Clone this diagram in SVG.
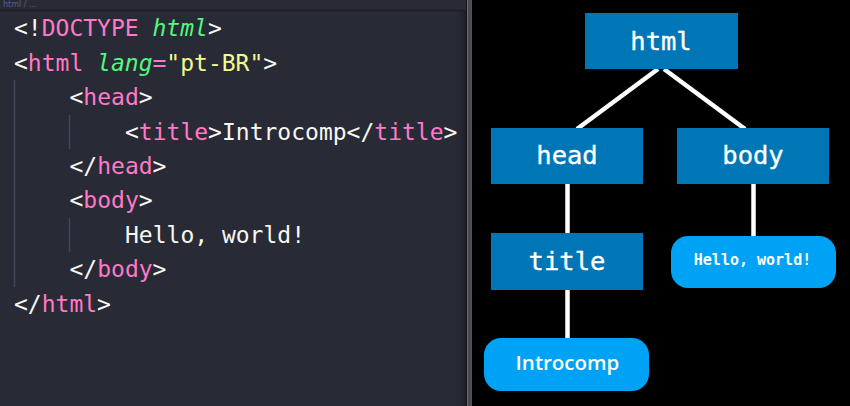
<svg xmlns="http://www.w3.org/2000/svg" width="850" height="406" viewBox="0 0 850 406">
  <style>
    .code { font-family: "DejaVu Sans Mono", "Liberation Mono", monospace; font-size: 23px; fill: #f8f8f2; }
    .tag { fill: #ff79c6; }
    .attr { fill: #50fa7b; font-style: italic; }
    .str { fill: #f1fa8c; }
    .guide { stroke: #44475a; stroke-width: 1.5; }
    .box { fill: #0076b6; }
    .leaf { fill: #00a2f5; }
    .lbl { font-family: "DejaVu Sans Mono", "Liberation Mono", monospace; font-size: 25.5px; fill: #ffffff; stroke: #ffffff; stroke-width: 0.35; text-anchor: middle; }
    .edge { stroke: #ffffff; stroke-width: 4.5; fill: none; }
  </style>
  <defs>
    <linearGradient id="shade" x1="0" y1="0" x2="1" y2="0">
      <stop offset="0" stop-color="#282a36" stop-opacity="0"/>
      <stop offset="1" stop-color="#1c1d26" stop-opacity="1"/>
    </linearGradient>
  </defs>

  <!-- editor panel -->
  <g id="editor">
    <rect x="0" y="0" width="467" height="406" fill="#282a36"/>
    <rect x="454" y="10" width="12" height="396" fill="url(#shade)"/>
    <text x="3" y="7" font-family="DejaVu Sans" font-size="8" fill="#55608c">html / ...</text>
    <line x1="0" y1="10.5" x2="467" y2="10.5" stroke="#1d1e26" stroke-width="1.5"/>
    <rect x="466" y="0" width="1.5" height="406" fill="#16171d"/>
    <rect x="467.5" y="0" width="4" height="406" fill="#4a4a50"/>
    <line class="guide" x1="14.5" y1="80" x2="14.5" y2="287"/>
    <line class="guide" x1="69.5" y1="115" x2="69.5" y2="149"/>
    <line class="guide" x1="69.5" y1="218" x2="69.5" y2="252"/>
    <text class="code" xml:space="preserve" x="14" y="36">&lt;!<tspan class="tag">DOCTYPE</tspan> <tspan class="attr">html</tspan>&gt;</text>
    <text class="code" xml:space="preserve" x="14" y="70.5">&lt;<tspan class="tag">html</tspan> <tspan class="attr">lang</tspan><tspan class="tag">=</tspan><tspan class="str">"pt-BR"</tspan>&gt;</text>
    <text class="code" x="69.5" y="105">&lt;<tspan class="tag">head</tspan>&gt;</text>
    <text class="code" x="125" y="139.5">&lt;<tspan class="tag">title</tspan>&gt;Introcomp&lt;/<tspan class="tag">title</tspan>&gt;</text>
    <text class="code" x="69.5" y="173.5">&lt;/<tspan class="tag">head</tspan>&gt;</text>
    <text class="code" x="69.5" y="208">&lt;<tspan class="tag">body</tspan>&gt;</text>
    <text class="code" xml:space="preserve" x="125" y="242.5">Hello, world!</text>
    <text class="code" x="69.5" y="277">&lt;/<tspan class="tag">body</tspan>&gt;</text>
    <text class="code" x="14" y="311.5">&lt;/<tspan class="tag">html</tspan>&gt;</text>
  </g>

  <!-- tree panel -->
  <rect x="471.5" y="0" width="378.5" height="406" fill="#000000"/>

  <g id="connectors">
    <line class="edge" x1="658" y1="69" x2="577" y2="129"/>
    <line class="edge" x1="664" y1="69" x2="745" y2="129"/>
    <line class="edge" x1="567.5" y1="184" x2="567.5" y2="234"/>
    <line class="edge" x1="753.5" y1="184" x2="753.5" y2="237"/>
    <line class="edge" x1="567.5" y1="290" x2="567.5" y2="339"/>
  </g>

  <g id="node-html">
    <rect class="box" x="585" y="13" width="153" height="56"/>
    <text class="lbl" x="661" y="49.5">html</text>
  </g>
  <g id="node-head">
    <rect class="box" x="491" y="128" width="152" height="56"/>
    <text class="lbl" x="567" y="164">head</text>
  </g>
  <g id="node-body">
    <rect class="box" x="677" y="128" width="152" height="56"/>
    <text class="lbl" x="753" y="164">body</text>
  </g>
  <g id="node-title">
    <rect class="box" x="491" y="233" width="152" height="57"/>
    <text class="lbl" x="567" y="269.5">title</text>
  </g>
  <g id="node-hello">
    <rect class="leaf" x="671" y="236" width="165" height="52" rx="17"/>
    <text x="752.5" y="265" font-family="DejaVu Sans Mono, monospace" font-weight="bold" font-size="15" fill="#ffffff" text-anchor="middle">Hello, world!</text>
  </g>
  <g id="node-introcomp">
    <rect class="leaf" x="484" y="338" width="165" height="53" rx="17"/>
    <text x="567.5" y="370" font-family="Open Sans, sans-serif" font-weight="600" font-size="20.5" fill="#ffffff" text-anchor="middle">Introcomp</text>
  </g>
</svg>
